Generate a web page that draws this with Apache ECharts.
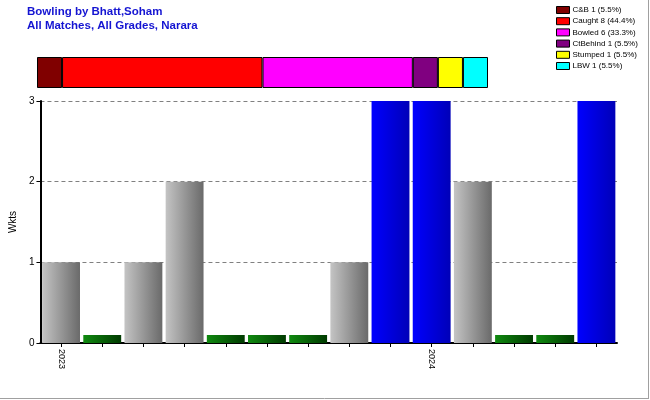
<!DOCTYPE html>
<html>
<head>
<meta charset="utf-8">
<script src="https://cdn.jsdelivr.net/npm/echarts@6/dist/echarts.min.js"></script>
<style>html,body{margin:0;padding:0;background:#fff;}#c{width:650px;height:400px;}</style>
</head>
<body>
<div id="c"></div>
<script>
// Dismissal breakdown
var dismissalNames = ['C&B', 'Caught', 'Bowled', 'CtBehind', 'Stumped', 'LBW'];
var dismissalCounts = [1, 8, 6, 1, 1, 1];
var dismissalColors = ['#800000', '#ff0000', '#ff00ff', '#800080', '#ffff00', '#00ffff'];

// Wickets per match
var matchLabels = ['2023', '', '', '', '', '', '', '', '', '2024', '', '', '', ''];
var wickets = [1, 0, 1, 2, 0, 0, 0, 1, 3, 3, 2, 0, 0, 3];
var yTicks = [0, 1, 2, 3];

function grad(a, b) {
  return new echarts.graphic.LinearGradient(0, 0, 1, 0, [{offset: 0, color: a}, {offset: 1, color: b}]);
}
var total = dismissalCounts.reduce(function (s, v) { return s + v; }, 0);
function pct(v) { return (Math.floor(v / total * 1000) / 10).toFixed(1); }

var series = [];
dismissalNames.forEach(function (n, i) {
  series.push({
    name: n + ' ' + dismissalCounts[i] + ' (' + pct(dismissalCounts[i]) + '%)',
    type: 'bar', stack: 'd', xAxisIndex: 0, yAxisIndex: 0,
    barWidth: '100%',
    data: [dismissalCounts[i]],
    itemStyle: {color: dismissalColors[i], borderColor: '#000', borderWidth: 1},
    silent: true
  });
});

series.push({
  type: 'bar', xAxisIndex: 1, yAxisIndex: 1,
  barCategoryGap: '8%',
  data: wickets.map(function (w) {
    if (w === 0) return {value: 0.1, itemStyle: {color: grad('#108a10', '#003a00')}};
    if (w >= 3) return {value: w, itemStyle: {color: grad('#0000ff', '#0000b8')}};
    return {value: w, itemStyle: {color: grad('#c4c4c4', '#6a6a6a')}};
  }),
  silent: true
});

var chart = echarts.init(document.getElementById('c'));
chart.setOption({
  animation: false,
  backgroundColor: '#fff',
  title: {
    text: 'Bowling by Bhatt,Soham\nAll Matches, All Grades, Narara',
    left: 27, top: 5, padding: 0,
    textStyle: {color: '#1414d2', fontFamily: 'Liberation Sans, Arial', fontWeight: 'bold', fontSize: 11.5, lineHeight: 14}
  },
  legend: {
    orient: 'vertical', left: 556, top: 6, padding: 0,
    itemWidth: 13, itemHeight: 7, itemGap: 3.2,
    icon: 'rect',
    textStyle: {fontFamily: 'Liberation Sans, Arial', fontSize: 8, color: '#000', padding: [0, 0, 0, -2]},
    itemStyle: {borderColor: '#000', borderWidth: 1},
    selectedMode: false,
    data: series.slice(0, 6).map(function (s) { return s.name; })
  },
  grid: [
    {left: 37, top: 57, width: 451, height: 31},
    {left: 36, top: 101, right: 33, bottom: 57}
  ],
  xAxis: [
    {gridIndex: 0, type: 'value', min: 0, max: total, show: false},
    {gridIndex: 1, type: 'category', data: matchLabels,
      axisLine: {lineStyle: {color: '#000', width: 2}},
      axisTick: {show: true, alignWithLabel: true, interval: 0, length: 4, lineStyle: {color: '#000'}},
      axisLabel: {interval: 0, rotate: -90, fontSize: 9, color: '#000', fontFamily: 'Liberation Sans, Arial', margin: 6},
      splitLine: {show: false}
    }
  ],
  yAxis: [
    {gridIndex: 0, type: 'category', data: [''], show: false},
    {gridIndex: 1, type: 'value', min: yTicks[0], max: yTicks[yTicks.length - 1], interval: 1,
      name: 'Wkts', nameLocation: 'middle', nameGap: 18, nameRotate: 90,
      nameTextStyle: {fontSize: 10, color: '#000', fontFamily: 'Liberation Sans, Arial'},
      axisLine: {show: true, lineStyle: {color: '#000', width: 2}},
      axisTick: {show: true, length: 4, lineStyle: {color: '#000'}},
      axisLabel: {fontSize: 10, color: '#000', fontFamily: 'Liberation Sans, Arial', margin: 6},
      splitLine: {show: true, lineStyle: {color: '#808080', type: [4, 3], width: 1}}
    }
  ],
  graphic: [
    {type: 'line', shape: {x1: 648.5, y1: 0, x2: 648.5, y2: 399}, style: {stroke: '#a0a0a0', lineWidth: 1}, silent: true},
    {type: 'line', shape: {x1: 0, y1: 398.5, x2: 649, y2: 398.5}, style: {stroke: '#a0a0a0', lineWidth: 1}, silent: true}
  ],
  series: series
});
</script>
</body>
</html>
